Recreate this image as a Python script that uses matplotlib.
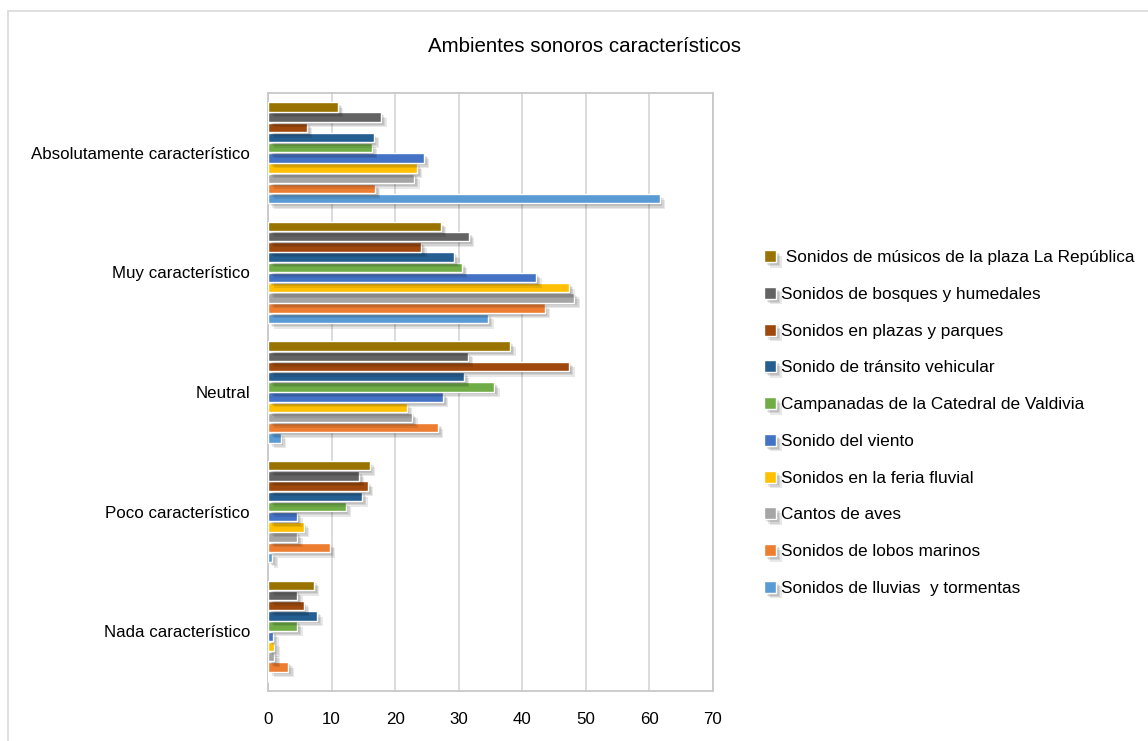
import numpy as np
import matplotlib
matplotlib.use("Agg")
import matplotlib.pyplot as plt
import matplotlib.patheffects as pe
from matplotlib.patches import Rectangle

plt.rcParams['font.family'] = ['Liberation Sans', 'DejaVu Sans']

categories = ['Absolutamente característico', 'Muy característico', 'Neutral',
              'Poco característico', 'Nada característico']

# series in drawing order (bottom bar of each group first)
series_names = ['Sonidos de lluvias  y tormentas', 'Sonidos de lobos marinos', 'Cantos de aves',
                'Sonidos en la feria fluvial', 'Sonido del viento',
                'Campanadas de la Catedral de Valdivia', 'Sonido de tránsito vehicular',
                'Sonidos en plazas y parques', 'Sonidos de bosques y humedales',
                ' Sonidos de músicos de la plaza La República']
colors = ['#5B9BD5', '#ED7D31', '#A5A5A5', '#FFC000', '#4472C4',
          '#70AD47', '#255E91', '#9E480E', '#636363', '#997300']

# values per series, ordered like categories
lluvias = [61.6, 34.6, 2.0, 0.7, 0.0]
lobos = [16.8, 43.5, 26.7, 9.7, 3.2]
aves = [23.0, 48.2, 22.7, 4.6, 1.0]
feria = [23.4, 47.4, 21.8, 5.6, 1.0]
viento = [24.5, 42.2, 27.5, 4.6, 0.8]
campanadas = [16.3, 30.5, 35.6, 12.2, 4.6]
transito = [16.6, 29.3, 30.8, 14.8, 7.7]
plazas = [6.1, 24.1, 47.4, 15.7, 5.6]
bosques = [17.8, 31.6, 31.4, 14.3, 4.6]
musicos = [11.0, 27.2, 38.1, 16.0, 7.2]
values = [lluvias, lobos, aves, feria, viento, campanadas, transito, plazas, bosques, musicos]

fig = plt.figure(figsize=(11.48, 7.41), dpi=100)
ax = fig.add_axes([268 / 1148, 1 - 691 / 741, 445 / 1148, 598 / 741])

# outer chart border
fig.patches.append(Rectangle((8 / 1148, -0.01), 1.1, 1 - 11 / 741 + 0.01, transform=fig.transFigure,
                             fill=False, edgecolor='#D9D9D9', linewidth=1.2))

ypos = np.arange(len(categories))[::-1]
slot = 0.0853
# soft-ish drop shadow made of a few faint offset copies
shadow = [pe.SimplePatchShadow(offset=(k, -k), shadow_rgbFace='black', alpha=0.09) for k in (1, 2, 3, 4)]
shadow.append(pe.Normal())
handles = []
for i, (name, vals, col) in enumerate(zip(series_names, values, colors)):
    off = (i - 4.5) * slot
    bars = ax.barh(ypos + off, vals, height=slot * 0.92, color=col, edgecolor='white',
                   linewidth=1.0, label=name, zorder=3)
    for b in bars:
        if b.get_width() > 0:
            b.set_path_effects(shadow)
    handles.append(bars)

ax.set_xlim(0, 70)
ax.set_ylim(-0.5, 4.5)
ax.set_xticks(np.arange(0, 71, 10))
ax.set_yticks(ypos)
ax.set_yticklabels(categories)
ax.tick_params(axis='both', length=0, labelsize=12.2, colors='#000000')
ax.tick_params(axis='x', pad=15)
ax.tick_params(axis='y', pad=13)
ax.grid(axis='x', color='#D9D9D9', linewidth=1.3, zorder=0)
ax.set_axisbelow(True)
for s in ax.spines.values():
    s.set_color('#C8C8C8')
    s.set_linewidth(1.3)

fig.text(585 / 1148, 1 - 47 / 741, 'Ambientes sonoros característicos', ha='center', va='center',
         fontsize=14.8)

leg = fig.legend(handles[::-1], series_names[::-1], loc='upper left',
                 bbox_to_anchor=(764 / 1148, 1 - 250 / 741), frameon=False, fontsize=12.4,
                 handlelength=0.7, handleheight=0.7, handletextpad=0.3,
                 labelspacing=1.26, borderpad=0, borderaxespad=0)

fig.savefig('out.png', dpi=100)
